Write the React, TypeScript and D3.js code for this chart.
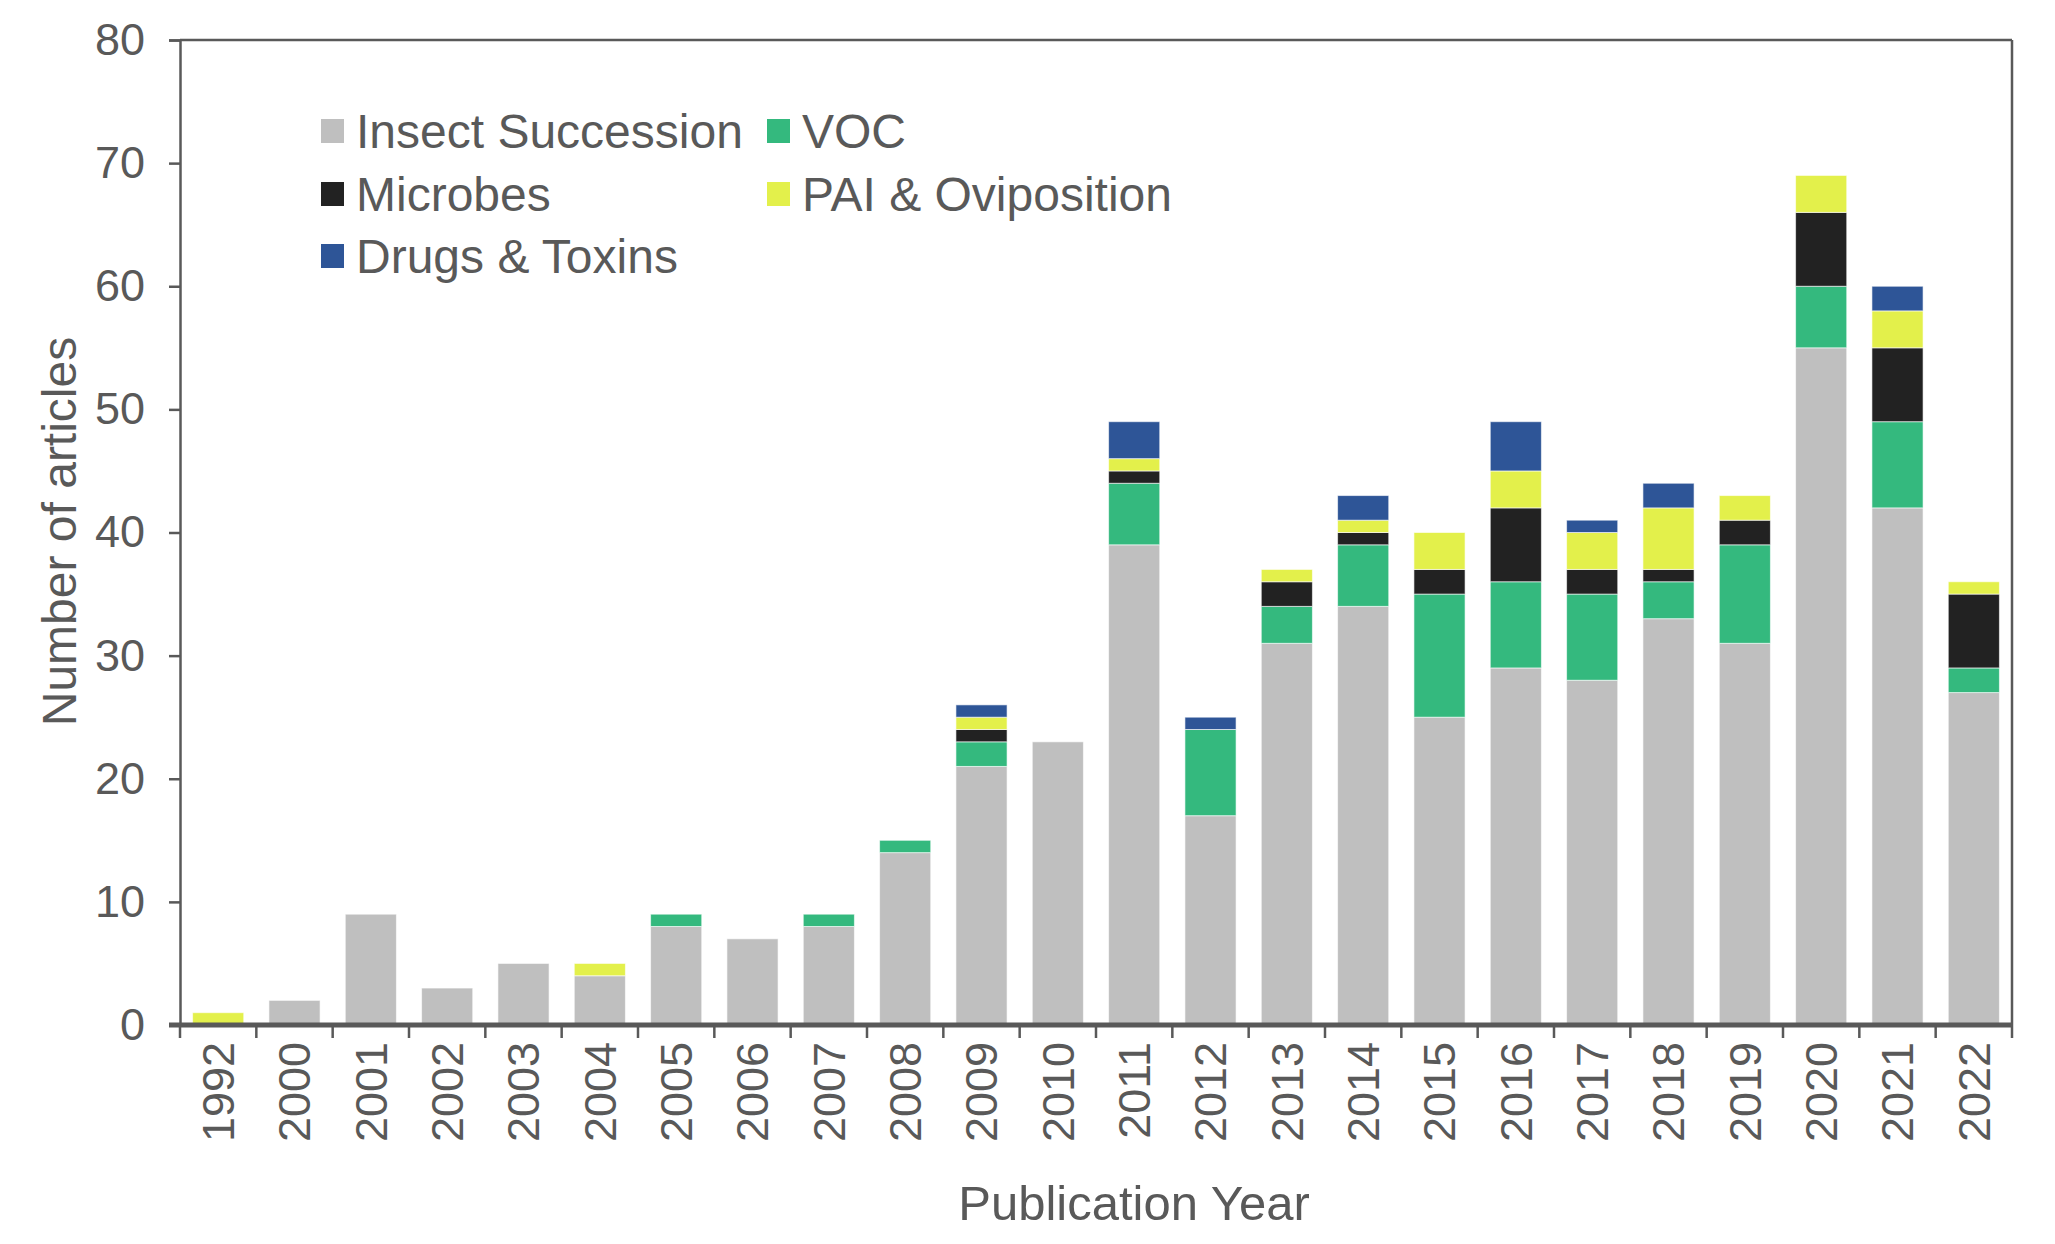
import React, { useEffect, useRef } from 'react';
import * as d3 from 'd3';

const years = ['1992', '2000', '2001', '2002', '2003', '2004', '2005', '2006', '2007', '2008', '2009', '2010',
  '2011', '2012', '2013', '2014', '2015', '2016', '2017', '2018', '2019', '2020', '2021', '2022'];

const seriesNames = ['Insect Succession', 'VOC', 'Microbes', 'PAI & Oviposition', 'Drugs & Toxins'];
const seriesColors = ['#bfbfbf', '#34b97e', '#222222', '#e3f04b', '#2e5597'];

const insectSuccession = [0, 2, 9, 3, 5, 4, 8, 7, 8, 14, 21, 23, 39, 17, 31, 34, 25, 29, 28, 33, 31, 55, 42, 27];
const voc = [0, 0, 0, 0, 0, 0, 1, 0, 1, 1, 2, 0, 5, 7, 3, 5, 10, 7, 7, 3, 8, 5, 7, 2];
const microbes = [0, 0, 0, 0, 0, 0, 0, 0, 0, 0, 1, 0, 1, 0, 2, 1, 2, 6, 2, 1, 2, 6, 6, 6];
const paiOviposition = [1, 0, 0, 0, 0, 1, 0, 0, 0, 0, 1, 0, 1, 0, 1, 1, 3, 3, 3, 5, 2, 3, 3, 1];
const drugsToxins = [0, 0, 0, 0, 0, 0, 0, 0, 0, 0, 1, 0, 3, 1, 0, 2, 0, 4, 1, 2, 0, 0, 2, 0];

const yTicks = [0, 10, 20, 30, 40, 50, 60, 70, 80];

const W = 2055;
const H = 1244;

const App: React.FC = () => {
  const svgRef = useRef<SVGSVGElement>(null);

  useEffect(() => {
    if (!svgRef.current) return;
    const svg = d3.select(svgRef.current);
    svg.selectAll('*').remove();

    const margin = { top: 40, right: 43, bottom: 219, left: 180 };
    const plotW = W - margin.left - margin.right;
    const plotH = H - margin.top - margin.bottom;
    const axisColor = '#595959';
    const font = '"Liberation Sans", Arial, sans-serif';

    const g = svg.append('g').attr('transform', `translate(${margin.left},${margin.top})`);

    const x = d3.scaleBand().domain(years).range([0, plotW]).paddingInner(0.33).paddingOuter(0.165);
    const y = d3.scaleLinear().domain([0, 80]).range([plotH, 0]);

    const rows = years.map((yr, i) => ({
      year: yr,
      'Insect Succession': insectSuccession[i],
      'VOC': voc[i],
      'Microbes': microbes[i],
      'PAI & Oviposition': paiOviposition[i],
      'Drugs & Toxins': drugsToxins[i],
    }));
    const stack = d3.stack<any>().keys(seriesNames)(rows);

    stack.forEach((layer, li) => {
      g.append('g')
        .selectAll('rect')
        .data(layer.filter(d => d[1] - d[0] > 0))
        .join('rect')
        .attr('x', d => x(d.data.year) as number)
        .attr('width', x.bandwidth())
        .attr('y', d => y(d[1]))
        .attr('height', d => y(d[0]) - y(d[1]))
        .attr('fill', seriesColors[li])
        .attr('stroke', '#ffffff')
        .attr('stroke-opacity', 0.6)
        .attr('stroke-width', 1);
    });

    // frame
    g.append('line').attr('x1', 0).attr('x2', plotW).attr('y1', 0).attr('y2', 0)
      .attr('stroke', axisColor).attr('stroke-width', 2.5);
    g.append('line').attr('x1', plotW).attr('x2', plotW).attr('y1', 0).attr('y2', plotH)
      .attr('stroke', axisColor).attr('stroke-width', 2.5);

    // y axis
    const yAxis = g.append('g')
      .call(d3.axisLeft(y).tickValues(yTicks).tickSize(11).tickPadding(24));
    yAxis.select('.domain').attr('stroke', axisColor).attr('stroke-width', 2.5);
    yAxis.selectAll('.tick line').attr('stroke', axisColor).attr('stroke-width', 2.5);
    yAxis.selectAll('.tick text')
      .attr('fill', axisColor)
      .attr('font-size', 45)
      .attr('font-family', font);

    // x axis baseline and ticks at category boundaries
    const step = x.step();
    const boundaries = d3.range(years.length + 1).map(i => i * step);
    g.append('line').attr('x1', -11).attr('x2', plotW).attr('y1', plotH).attr('y2', plotH)
      .attr('stroke', axisColor).attr('stroke-width', 5);
    g.append('g').selectAll('line').data(boundaries).join('line')
      .attr('x1', d => d).attr('x2', d => d)
      .attr('y1', plotH).attr('y2', plotH + 13)
      .attr('stroke', axisColor).attr('stroke-width', 2.5);

    g.append('g').selectAll('text').data(years).join('text')
      .attr('transform', d => `translate(${(x(d) as number) + x.bandwidth() / 2},${plotH + 17}) rotate(-90)`)
      .attr('text-anchor', 'end')
      .attr('dy', '0.35em')
      .attr('fill', axisColor)
      .attr('font-size', 45)
      .attr('font-family', font)
      .text(d => d);

    // axis titles
    svg.append('text')
      .attr('transform', `translate(59,${margin.top + plotH / 2 - 1}) rotate(-90)`)
      .attr('text-anchor', 'middle')
      .attr('dy', '0.35em')
      .attr('fill', axisColor)
      .attr('font-size', 48)
      .attr('font-family', font)
      .text('Number of articles');

    svg.append('text')
      .attr('x', 1134)
      .attr('y', 1203)
      .attr('text-anchor', 'middle')
      .attr('dy', '0.35em')
      .attr('fill', axisColor)
      .attr('font-size', 49)
      .attr('font-family', font)
      .text('Publication Year');

    // legend
    const legendPos = [
      { x: 321, y: 131 },
      { x: 767, y: 131 },
      { x: 321, y: 194 },
      { x: 767, y: 194 },
      { x: 321, y: 256 },
    ];
    seriesNames.forEach((name, i) => {
      const p = legendPos[i];
      const lg = svg.append('g').attr('transform', `translate(${p.x},${p.y})`);
      lg.append('rect')
        .attr('x', 0).attr('y', -12).attr('width', 23).attr('height', 24)
        .attr('fill', seriesColors[i]);
      lg.append('text')
        .attr('x', 35)
        .attr('dy', '0.35em')
        .attr('fill', axisColor)
        .attr('font-size', 48)
        .attr('font-family', font)
        .text(name);
    });
  }, []);

  return (
    <svg
      ref={svgRef}
      width={W}
      height={H}
      style={{ display: 'block', position: 'fixed', left: 0, top: 0, background: '#fff' }}
    />
  );
};

export default App;
